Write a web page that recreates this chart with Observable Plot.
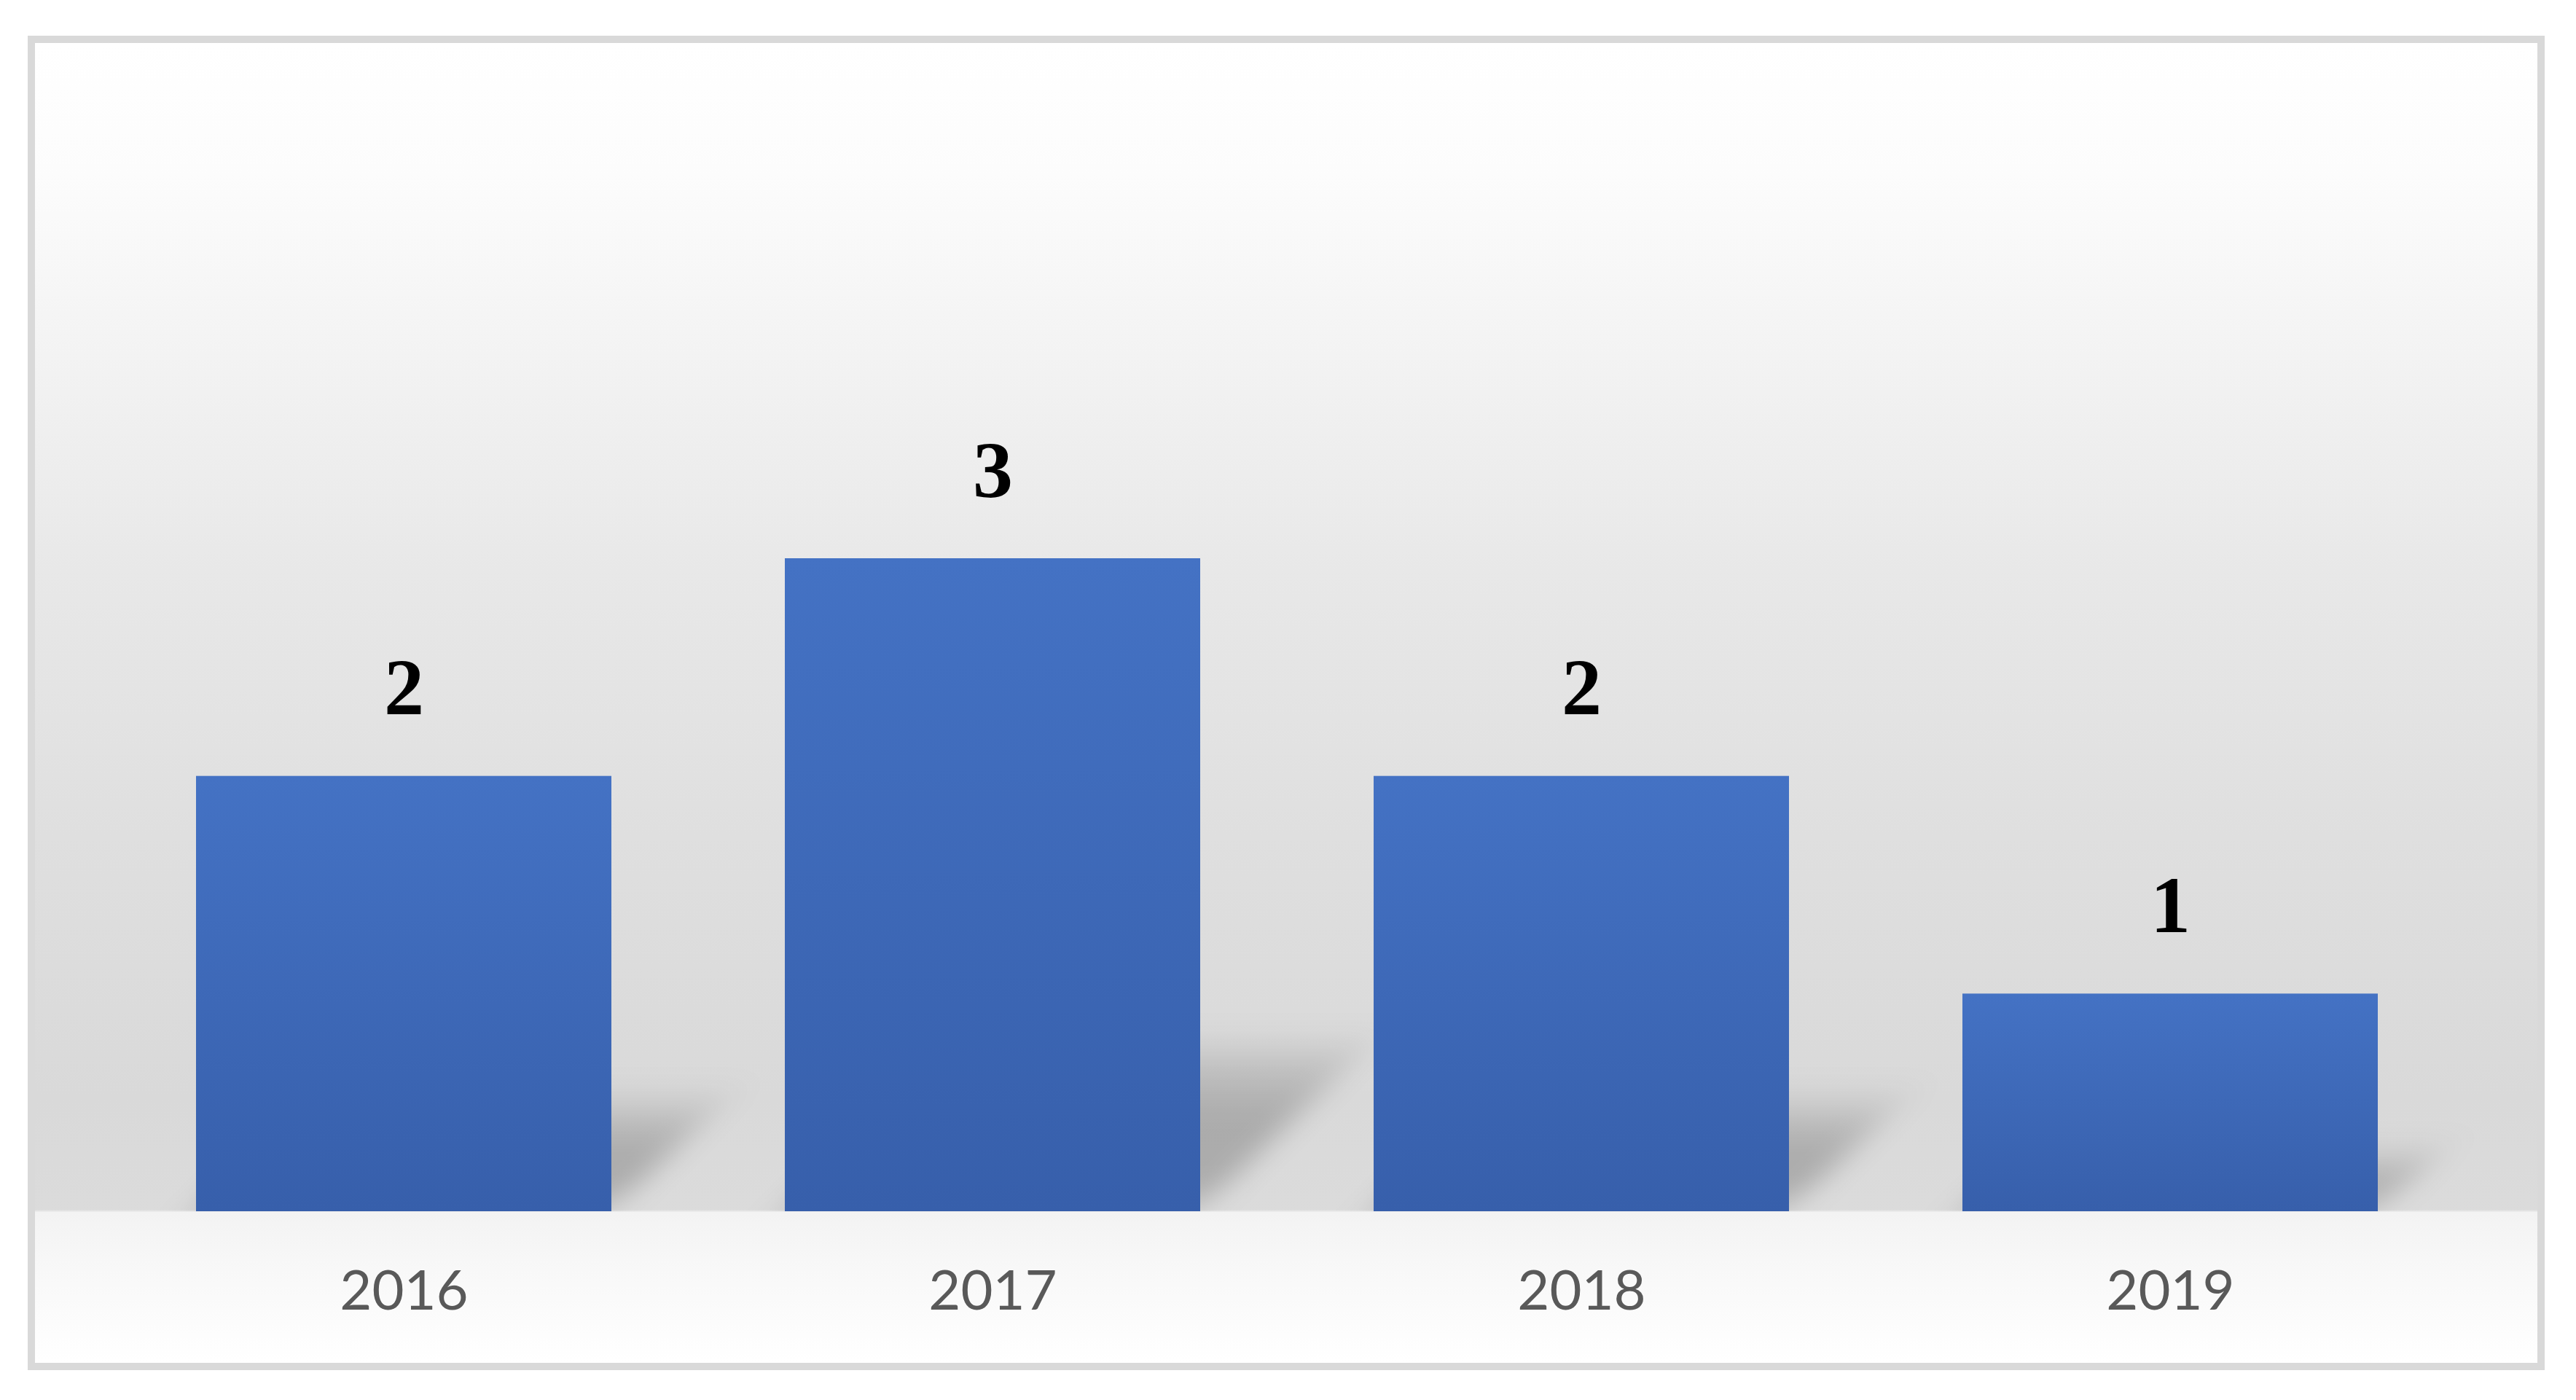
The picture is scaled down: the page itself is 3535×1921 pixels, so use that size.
<!DOCTYPE html>
<html>
<head>
<meta charset="utf-8">
<script src="https://cdn.jsdelivr.net/npm/d3@7"></script>
<script src="https://cdn.jsdelivr.net/npm/@observablehq/plot@0.6"></script>
<style>
  html, body { margin: 0; padding: 0; background: #ffffff; width: 3535px; height: 1921px; overflow: hidden; }
  #box {
    position: absolute; left: 38px; top: 49px; width: 3454px; height: 1831px;
    box-sizing: border-box; border: 10px solid #d9d9d9;
    background: linear-gradient(to bottom,
      #ffffff 0%, #fcfcfc 10%, #f2f2f2 25%, #e8e8e8 40%, #dfdfdf 60%,
      #d9d9d9 80%, #dbdbdb 88.4%, #f3f3f3 88.6%, #f8f8f8 93%, #ffffff 100%);
  }
  #chart { position: absolute; left: 0; top: 0; }
</style>
</head>
<body>
<div id="box"></div>
<div id="chart"></div>
<script>
// ---- data ----
const years = ["2016", "2017", "2018", "2019"];
const counts = [2, 3, 2, 1];

const data = years.map((year, i) => ({year, count: counts[i]}));
const shadowRatio = 0.25;

const plot = Plot.plot({
  width: 3535,
  height: 1921,
  marginLeft: 147,
  marginRight: 150,
  marginTop: 766,
  marginBottom: 259,
  style: {background: "transparent", color: "#595959", overflow: "visible"},
  x: {domain: years, paddingInner: 0.295, paddingOuter: 0.15, axis: null, label: null},
  y: {domain: [0, 3], axis: null},
  marks: [
    // soft cast shadow (first bar mark)
    Plot.barY(data, {
      x: "year",
      y: d => d.count * shadowRatio,
      fill: "url(#shGrad)",
      fillOpacity: 1
    }),
    // bars
    Plot.barY(data, {
      x: "year",
      y: "count",
      fill: "url(#barGrad)"
    }),
    Plot.text(data, {
      x: "year",
      y: "count",
      text: d => String(d.count),
      dy: -120,
      lineAnchor: "middle",
      fontSize: 110,
      fontWeight: "bold",
      fontFamily: "Liberation Serif",
      fill: "#000000"
    }),
    Plot.axisX({
      tickSize: 0,
      tickPadding: 81,
      fontSize: 76,
      fontFamily: "Lato",
      color: "#595959",
      label: null
    })
  ]
});

document.getElementById("chart").appendChild(plot);

const svgns = "http://www.w3.org/2000/svg";
const svg = d3.select(plot);
const y0 = plot.scale("y").apply(0);
const defs = svg.insert("defs", ":first-child");

const g = defs.append("linearGradient").attr("id", "barGrad")
  .attr("x1", 0).attr("y1", 0).attr("x2", 0).attr("y2", 1);
g.append("stop").attr("offset", "0%").attr("stop-color", "#4472c4");
g.append("stop").attr("offset", "100%").attr("stop-color", "#375fab");

const sg = defs.append("linearGradient").attr("id", "shGrad")
  .attr("x1", 0).attr("y1", 0).attr("x2", 0).attr("y2", 1);
sg.append("stop").attr("offset", "0%").attr("stop-color", "#000").attr("stop-opacity", 0.08);
sg.append("stop").attr("offset", "45%").attr("stop-color", "#000").attr("stop-opacity", 0.22);
sg.append("stop").attr("offset", "100%").attr("stop-color", "#000").attr("stop-opacity", 0.2);

const f = defs.append("filter").attr("id", "shBlur")
  .attr("x", "-50%").attr("y", "-50%").attr("width", "200%").attr("height", "200%");
f.append("feGaussianBlur").attr("stdDeviation", 26);

defs.append("clipPath").attr("id", "floorClip").attr("clipPathUnits", "userSpaceOnUse")
  .append("rect").attr("x", 0).attr("y", 0).attr("width", 3535).attr("height", y0);

const sh = plot.querySelectorAll('g[aria-label="bar"]')[0];
if (sh) {
  const wrap = document.createElementNS(svgns, "g");
  wrap.setAttribute("clip-path", "url(#floorClip)");
  sh.parentNode.insertBefore(wrap, sh);
  const inner = document.createElementNS(svgns, "g");
  inner.setAttribute("transform", `translate(0,${y0}) skewX(-45) translate(0,${-y0})`);
  inner.setAttribute("filter", "url(#shBlur)");
  wrap.appendChild(inner);
  inner.appendChild(sh);
}
</script>
</body>
</html>
